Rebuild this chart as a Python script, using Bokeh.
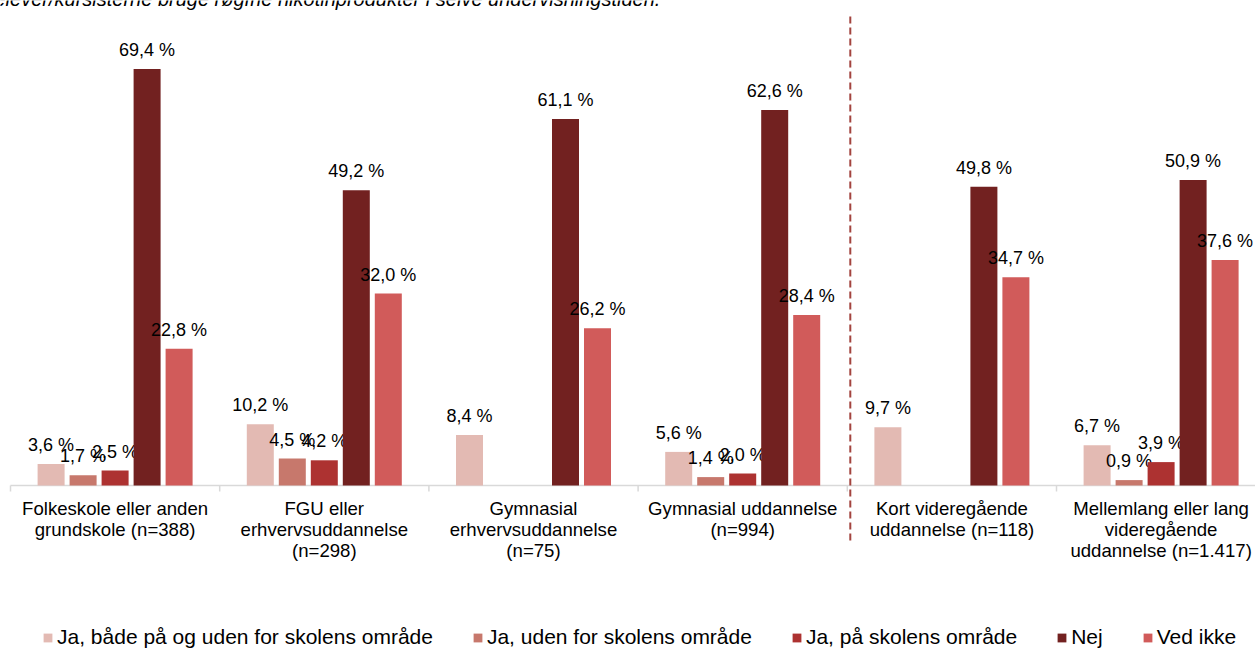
from bokeh.plotting import figure
from bokeh.models import ColumnDataSource, Range1d, Legend, LegendItem, Label
from bokeh.core.properties import value
from bokeh.embed import file_html
from bokeh.resources import INLINE

# ---------------- data ----------------
categories = [
    "Folkeskole eller anden\ngrundskole (n=388)",
    "FGU eller\nerhvervsuddannelse\n(n=298)",
    "Gymnasial\nerhvervsuddannelse\n(n=75)",
    "Gymnasial uddannelse\n(n=994)",
    "Kort videregående\nuddannelse (n=118)",
    "Mellemlang eller lang\nvideregående\nuddannelse (n=1.417)",
]
series_names = [
    "Ja, både på og uden for skolens område",
    "Ja, uden for skolens område",
    "Ja, på skolens område",
    "Nej",
    "Ved ikke",
]
ja_begge = [3.6, 10.2, 8.4, 5.6, 9.7, 6.7]
ja_uden = [1.7, 4.5, None, 1.4, None, 0.9]
ja_paa = [2.5, 4.2, None, 2.0, None, 3.9]
nej = [69.4, 49.2, 61.1, 62.6, 49.8, 50.9]
ved_ikke = [22.8, 32.0, 26.2, 28.4, 34.7, 37.6]
series_values = [ja_begge, ja_uden, ja_paa, nej, ved_ikke]
colors = ["#E3BAB3", "#C7786C", "#AD3231", "#722120", "#D15B5A"]
title_text = "elever/kursisterne bruge røgfrie nikotinprodukter i selve undervisningstiden."

# ---------------- layout constants ----------------
CAT_PX = 209.2          # pixel width of one category
PX_PER_PCT = 6.0
W, H = 1255, 649
x_start = -10 / CAT_PX
x_end = x_start + W / CAT_PX
y_end = 485 / PX_PER_PCT
y_start = y_end - H / PX_PER_PCT
FONT = "Liberation Sans"

p = figure(width=W, height=H, x_range=Range1d(x_start, x_end),
           y_range=Range1d(y_start, y_end), x_axis_type=None, y_axis_type=None,
           output_backend="svg", toolbar_location=None, min_border=0)
p.outline_line_color = None
p.background_fill_color = "white"

# axis baseline and tick marks (category boundaries)
n = len(categories)
p.segment(x0=[0], y0=[0], x1=[n], y1=[0], line_color="#D9D9D9", line_width=1.5)
bounds = list(range(n + 1))
p.segment(x0=bounds, y0=[0] * len(bounds), x1=bounds,
          y1=[-6 / PX_PER_PCT] * len(bounds), line_color="#D9D9D9", line_width=1.5)

# bars
offsets = [-64, -32, 0, 32, 64]
bar_w = 27 / CAT_PX
renderers = []
for s, (name, vals, col, off) in enumerate(zip(series_names, series_values, colors, offsets)):
    xs, tops, labels = [], [], []
    for i, v in enumerate(vals):
        if v is None:
            continue
        xs.append(i + 0.5 + off / CAT_PX)
        tops.append(v)
        labels.append(f"{v:.1f}".replace(".", ",") + " %")
    src = ColumnDataSource(dict(x=xs, top=tops, label=labels))
    r = p.vbar(x="x", top="top", bottom=0, width=bar_w, source=src,
               fill_color=col, line_color=None)
    renderers.append(r)
    p.text(x="x", y="top", text="label", source=src, y_offset=-19,
           text_align="center", text_baseline="alphabetic",
           text_font=value(FONT), text_font_size="18px", text_color="#000000")

# category labels
csrc = ColumnDataSource(dict(x=[i + 0.5 for i in range(n)], y=[0] * n, t=categories))
p.text(x="x", y="y", text="t", source=csrc, y_offset=12, text_align="center",
       text_baseline="top", text_font=value(FONT), text_font_size="18.6px",
       text_line_height=1.0, text_color="#000000")

# dashed separator
sep_x = 4 + 3 / CAT_PX
p.segment(x0=[sep_x], y0=[-55 / PX_PER_PCT], x1=[sep_x], y1=[470 / PX_PER_PCT],
          line_color="#A3443F", line_width=2, line_dash="7 4")

# partial title at the very top (cut off, as in the source image)
p.add_layout(Label(x=x_start, y=y_end + 2 / PX_PER_PCT, text=title_text,
                   x_offset=-6, text_font=FONT, text_font_style="italic",
                   text_font_size="20px", text_baseline="alphabetic",
                   text_color="#000000"))

legend = Legend(items=[LegendItem(label=nm, renderers=[r]) for nm, r in zip(series_names, renderers)],
                orientation="horizontal", location=(42, 0),
                glyph_width=11, glyph_height=11, label_standoff=4, spacing=39,
                border_line_color=None, background_fill_alpha=0,
                label_text_font=FONT, label_text_font_size="21px",
                label_text_color="#000000", padding=2, margin=0)
p.add_layout(legend)

open("out.html", "w").write(file_html(p, INLINE))
